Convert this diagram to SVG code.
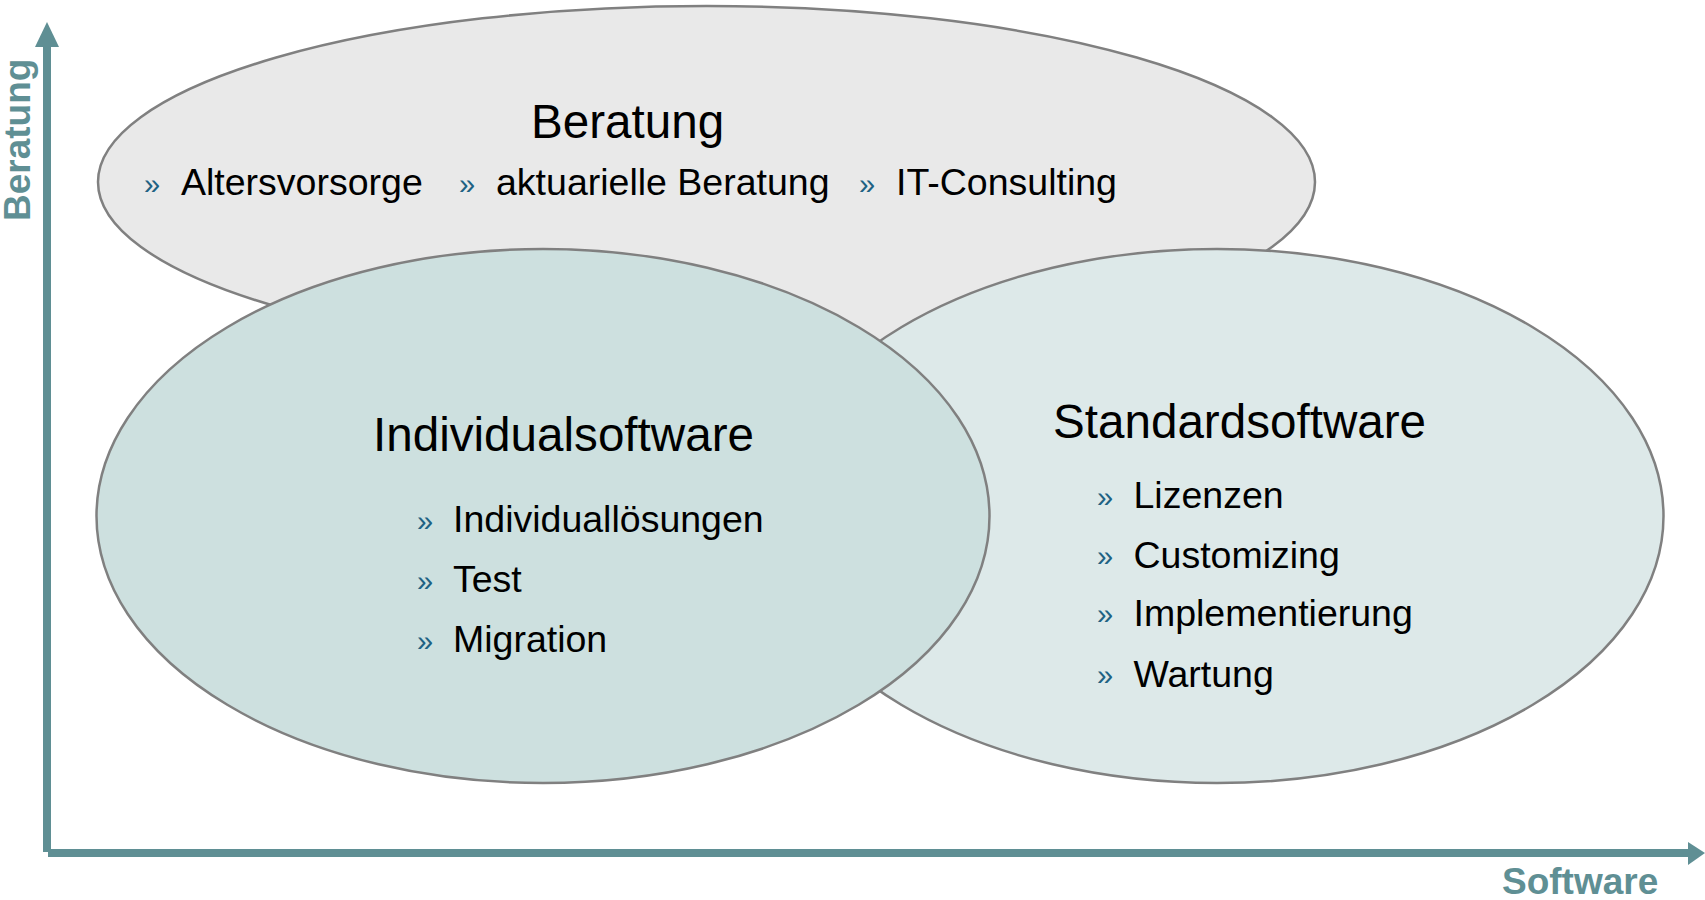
<svg xmlns="http://www.w3.org/2000/svg" width="1705" height="900" viewBox="0 0 1705 900">
  <style>
    text { font-family: "Liberation Sans", Arial, sans-serif; fill: #000; }
    .title { font-size: 47.6px; }
    .item { font-size: 37.5px; }
    .bullet { font-size: 29px; fill: #1f6283; }
    .axis-label { font-size: 37px; font-weight: bold; fill: #5f8f94; }
    .axis { stroke: #5f8f94; stroke-width: 8; fill: none; }
    .head { fill: #5f8f94; }
    .oval { stroke: #808080; stroke-width: 2.5; }
  </style>

  <!-- Beratung (back) -->
  <g id="beratung">
    <ellipse class="oval" cx="706.5" cy="182" rx="608.5" ry="176" fill="#e9e9e9"/>
    <text class="title" x="531" y="138">Beratung</text>
    <text class="bullet" x="144" y="194">»</text>
    <text class="item" x="181" y="195">Altersvorsorge</text>
    <text class="bullet" x="459" y="194">»</text>
    <text class="item" x="496" y="195">aktuarielle Beratung</text>
    <text class="bullet" x="859" y="194">»</text>
    <text class="item" x="896" y="195">IT-Consulting</text>
  </g>

  <!-- Standardsoftware (right) -->
  <g id="standardsoftware">
    <ellipse class="oval" cx="1217" cy="516" rx="446.5" ry="267" fill="#dde9e9"/>
    <text class="title" x="1053" y="438">Standardsoftware</text>
    <text class="bullet" x="1097" y="507">»</text>
    <text class="item" x="1133.5" y="508">Lizenzen</text>
    <text class="bullet" x="1097" y="566">»</text>
    <text class="item" x="1133.5" y="567.5">Customizing</text>
    <text class="bullet" x="1097" y="624">»</text>
    <text class="item" x="1133.5" y="625.5">Implementierung</text>
    <text class="bullet" x="1097" y="685">»</text>
    <text class="item" x="1133.5" y="686.5">Wartung</text>
  </g>

  <!-- Individualsoftware (front) -->
  <g id="individualsoftware">
    <ellipse class="oval" cx="543" cy="516" rx="446.5" ry="267" fill="#cde0df"/>
    <text class="title" x="373" y="451">Individualsoftware</text>
    <text class="bullet" x="417" y="531">»</text>
    <text class="item" x="453" y="532">Individuallösungen</text>
    <text class="bullet" x="417" y="591">»</text>
    <text class="item" x="453" y="592">Test</text>
    <text class="bullet" x="417" y="651">»</text>
    <text class="item" x="453" y="652">Migration</text>
  </g>

  <!-- Axes -->
  <g id="connectors">
    <line class="axis" x1="47" y1="852" x2="47" y2="44"/>
    <polygon class="head" points="47,22 35,47 59,47"/>
    <line class="axis" x1="48" y1="853" x2="1690" y2="853"/>
    <polygon class="head" points="1705,853 1688,842 1688,865"/>
  </g>

  <g id="axis-labels">
    <text class="axis-label" transform="translate(30,221) rotate(-90)">Beratung</text>
    <text class="axis-label" x="1502" y="894">Software</text>
  </g>
</svg>
